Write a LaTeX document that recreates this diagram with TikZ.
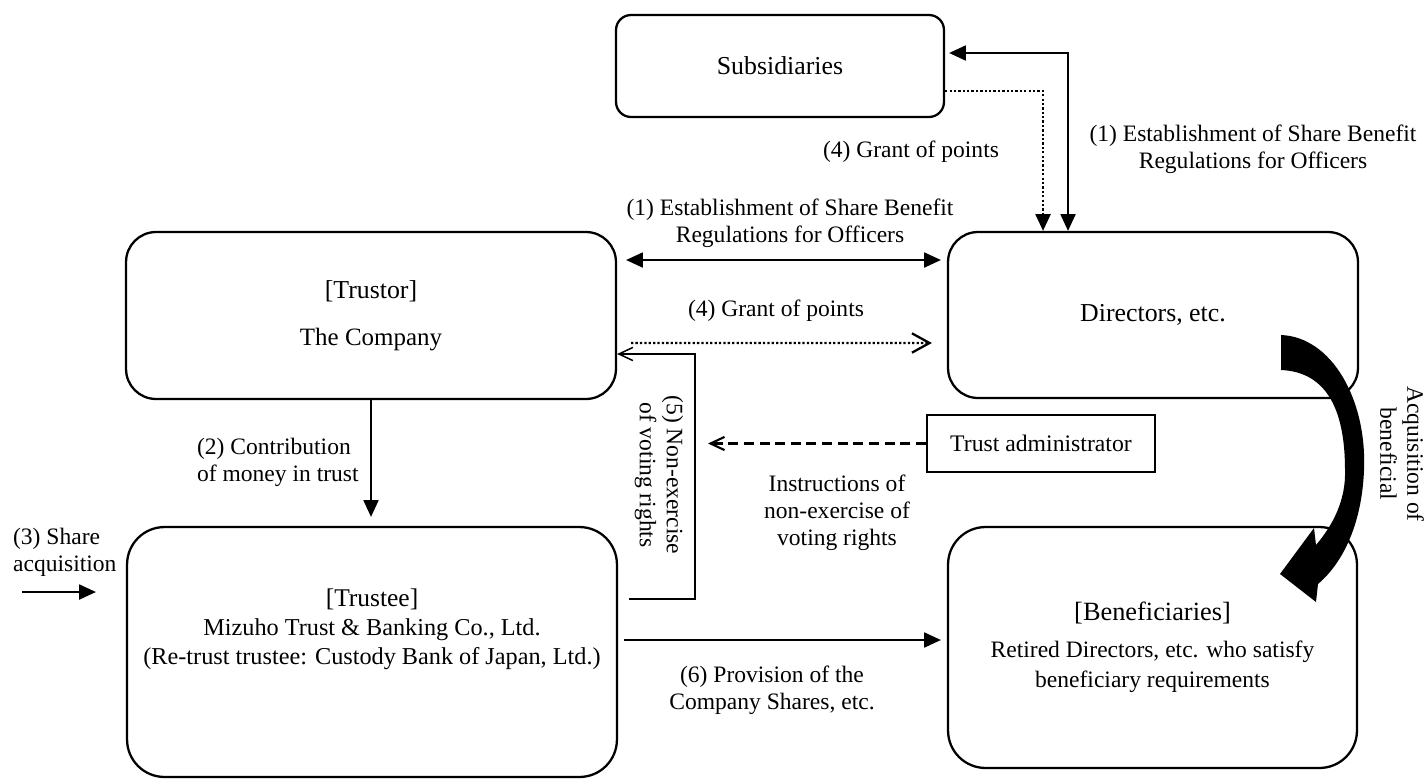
\documentclass[tikz,border=0pt]{standalone}
\usepackage{fontspec}
\setmainfont{Liberation Serif}
\usetikzlibrary{arrows.meta, positioning, calc}

\begin{document}
\begin{tikzpicture}[x=0.02cm, y=-0.02cm,
  box/.style={draw, line width=1.3pt, inner sep=0pt, align=center, font=\fontsize{14.7}{16}\selectfont},
  lbl/.style={align=center, inner sep=1pt, font=\fontsize{13.4}{15.3}\selectfont},
  solidarrow/.style={line width=1.1pt, -{Triangle[length=9.5pt,width=8.5pt]}},
  dotline/.style={line width=1.3pt, dash pattern=on 1.3pt off 1.2pt}]
\useasboundingbox (0,0) rectangle (1427,778);

\node[box, rounded corners=0.3cm, minimum width=6.56cm, minimum height=2.04cm] (subs) at (780,66) {Subsidiaries};
\node[box, rounded corners=0.6cm, minimum width=9.8cm, minimum height=3.34cm] (company) at (371,315.5) {[Trustor]\\[11pt]\fontsize{14.2}{16}\selectfont The Company};
\node[box, rounded corners=0.6cm, minimum width=8.2cm, minimum height=3.32cm] (directors) at (1153,315) {Directors, etc.};
\node[box, rounded corners=0.75cm, minimum width=9.8cm, minimum height=5cm] (trustee) at (372,652) {};
\node[align=center, font=\fontsize{13.8}{16}\selectfont] (trusteetxt) at ([yshift=0.46cm]trustee.center) {{\fontsize{14.5}{16}\selectfont [Trustee]}\\[0.4pt]Mizuho Trust \& Banking Co., Ltd.\\[0.4pt](Re-trust trustee: Custody Bank of Japan, Ltd.)};
\node[box, rounded corners=0.75cm, minimum width=8.18cm, minimum height=4.82cm, font=\fontsize{13.4}{16}\selectfont] (benef) at (1152.5,647.5) {{\fontsize{15}{16}\selectfont [Beneficiaries]}\\[5pt]Retired Directors, etc. who satisfy\\[1pt]beneficiary requirements};
\node[box, minimum width=4.56cm, minimum height=1.14cm, font=\fontsize{13.5}{16}\selectfont] (admin) at (1041,443.5) {Trust administrator};

\coordinate (instr) at (708,443.5);
\coordinate (shareacq) at (22,592);

\draw[line width=1.1pt, {Triangle[length=9.5pt,width=8.5pt]}-{Triangle[length=9.5pt,width=8.5pt]}] ([xshift=0.08cm,yshift=0.26cm]subs.east) -| ([xshift=-1.7cm]directors.north);
\draw[dotline, -{Triangle[length=9.5pt,width=8.5pt]}] ([yshift=-0.5cm]subs.east) -| ([xshift=-2.2cm]directors.north);
\draw[line width=1.1pt, {Triangle[length=9.5pt,width=8.5pt]}-{Triangle[length=9.5pt,width=8.5pt]}] ([xshift=0.18cm,yshift=1.11cm]company.east) -- ([xshift=-0.12cm,yshift=1.1cm]directors.west);
\draw[dotline, -{Straight Barb[length=10pt,width=11pt]}] ([xshift=0.28cm,yshift=-0.55cm]company.east) -- ([xshift=-0.3cm,yshift=-0.56cm]directors.west);
\draw[line width=0.85pt, -{Straight Barb[length=8pt,width=7.5pt]}] ([xshift=0.22cm,yshift=1.06cm]trustee.east) -- ++(1.32cm,0) |- ([yshift=-0.77cm]company.east);
\draw[line width=1.2pt, dash pattern=on 5.7pt off 3.2pt, -{Straight Barb[length=8pt,width=7.5pt]}] (admin.west) -- (instr);
\draw[solidarrow, shorten >=0.18cm] (company.south) -- (company.south |- trustee.north);
\draw[solidarrow] (shareacq) -- ([xshift=-0.6cm,yshift=1.2cm]trustee.west);
\draw[solidarrow] ([xshift=0.12cm,yshift=0.24cm]trustee.east) -- ([xshift=-0.12cm,yshift=0.15cm]benef.west);

\fill (1281,335) .. controls (1332,337) and (1367,400) .. (1364,470) .. controls (1362,522) and (1344,562) .. (1318,584) -- (1316,602) -- (1280,574) -- (1314,528) -- (1316,545) .. controls (1333,525) and (1346,500) .. (1345,470) .. controls (1345,412) and (1328,372) .. (1281,370) -- cycle;

\node[lbl] (grant1) at (911,152) {(4) Grant of points};
\node[lbl] (estab1) at (1253,149) {(1) Establishment of Share Benefit\\Regulations for Officers};
\node[lbl] (estab2) at (790,223) {(1) Establishment of Share Benefit\\Regulations for Officers};
\node[lbl] (grant2) at (776,311) {(4) Grant of points};
\node[lbl, rotate=-90] (nonex) at (659,475) {(5) Non-exercise\\of voting rights};
\node[lbl] (instrtxt) at (837,513) {Instructions of\\non-exercise of\\voting rights};
\node[lbl, align=left, anchor=west] (contrib) at (195,462) {(2) Contribution\\of money in trust};
\node[lbl, align=left, anchor=west] (shareacqtxt) at (11,552) {(3) Share\\acquisition};
\node[lbl] (provision) at (772,690) {(6) Provision of the\\Company Shares, etc.};
\node[lbl, rotate=-90] (acqtxt) at (1402,454) {Acquisition of\\beneficial};
\end{tikzpicture}
\end{document}
